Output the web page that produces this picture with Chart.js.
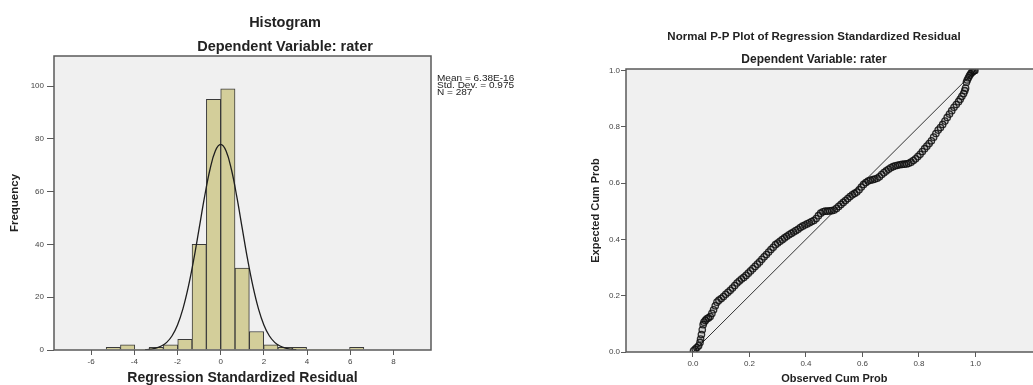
<!DOCTYPE html>
<html>
<head>
<meta charset="utf-8">
<script src="https://cdn.jsdelivr.net/npm/chart.js@4.4.0/dist/chart.umd.min.js"></script>
<style>
  html, body { margin: 0; padding: 0; background: #fff; overflow: hidden; }
  body { width: 1033px; height: 385px; position: relative; }
  .box { position: absolute; top: 0; height: 385px; }
  #histBox { left: 0; width: 570px; }
  #ppBox { left: 580px; width: 468px; }
</style>
</head>
<body>
<div class="box" id="histBox"><canvas id="histChart" width="570" height="385"></canvas></div>
<div class="box" id="ppBox"><canvas id="ppChart" width="468" height="385"></canvas></div>
<script>
// ---- histogram of the standardized residuals ----
const binCenters = [-4.973, -4.310, -3.647, -2.984, -2.321, -1.658, -0.995, -0.332, 0.332,
                    0.995, 1.658, 2.321, 2.984, 3.647, 4.310, 4.973, 5.636, 6.299];
const binCounts = [1, 2, 0, 1, 2, 4, 40, 95, 99, 31, 7, 2, 1, 1, 0, 0, 0, 1];

// normal curve drawn over the bars
const curveX = [-3.5, -3.25, -3, -2.75, -2.5, -2.25, -2, -1.75, -1.5, -1.25, -1, -0.75, -0.5, -0.25, 0,
                0.25, 0.5, 0.75, 1, 1.25, 1.5, 1.75, 2, 2.25, 2.5, 2.75, 3, 3.25, 3.5];
const curveY = [0.1, 0.3, 0.7, 1.5, 2.9, 5.4, 9.5, 15.6, 23.9, 34.2, 46.0, 57.9, 68.3, 75.4, 77.9,
                75.4, 68.3, 57.9, 46.0, 34.2, 23.9, 15.6, 9.5, 5.4, 2.9, 1.5, 0.7, 0.3, 0.1];

const histXTicks = [-6, -4, -2, 0, 2, 4, 6, 8];
const histYTicks = [0, 20, 40, 60, 80, 100];
const summaryLines = ['Mean = 6.38E-16', 'Std. Dev. = 0.975', 'N = 287'];

// ---- normal P-P plot ----
const observedCum = [
  0.002, 0.008, 0.014, 0.020, 0.025, 0.027, 0.030, 0.033, 0.036, 0.039, 0.044, 0.049, 0.055, 0.061,
  0.067, 0.073, 0.079, 0.085, 0.092, 0.100, 0.108, 0.116, 0.124, 0.132, 0.140, 0.148, 0.156, 0.164,
  0.172, 0.180, 0.188, 0.196, 0.204, 0.212, 0.220, 0.228, 0.236, 0.244, 0.252, 0.260, 0.268, 0.276,
  0.284, 0.292, 0.300, 0.308, 0.316, 0.324, 0.332, 0.340, 0.348, 0.356, 0.364, 0.372, 0.380, 0.388,
  0.396, 0.404, 0.412, 0.420, 0.428, 0.436, 0.444, 0.452, 0.460, 0.468, 0.476, 0.484, 0.492, 0.500,
  0.508, 0.516, 0.524, 0.532, 0.540, 0.548, 0.556, 0.564, 0.572, 0.580, 0.588, 0.596, 0.604, 0.612,
  0.620, 0.628, 0.636, 0.644, 0.652, 0.660, 0.668, 0.676, 0.684, 0.692, 0.700, 0.708, 0.716, 0.724,
  0.732, 0.740, 0.748, 0.756, 0.764, 0.772, 0.780, 0.788, 0.796, 0.804, 0.812, 0.820, 0.828, 0.836,
  0.844, 0.852, 0.860, 0.868, 0.876, 0.884, 0.892, 0.900, 0.908, 0.916, 0.924, 0.932, 0.940, 0.946,
  0.952, 0.958, 0.962, 0.965, 0.968, 0.971, 0.975, 0.979, 0.983, 0.987, 0.991, 0.995, 0.998
];
const expectedCum = [
  0.004, 0.010, 0.016, 0.022, 0.034, 0.046, 0.062, 0.079, 0.097, 0.106, 0.112, 0.118, 0.121, 0.126,
  0.137, 0.150, 0.164, 0.177, 0.184, 0.190, 0.197, 0.205, 0.212, 0.219, 0.227, 0.236, 0.245, 0.252,
  0.259, 0.265, 0.272, 0.280, 0.288, 0.296, 0.304, 0.312, 0.320, 0.329, 0.338, 0.346, 0.355, 0.364,
  0.372, 0.381, 0.387, 0.393, 0.399, 0.405, 0.411, 0.416, 0.421, 0.426, 0.431, 0.436, 0.442, 0.447,
  0.451, 0.455, 0.459, 0.463, 0.467, 0.474, 0.484, 0.493, 0.498, 0.500, 0.500, 0.501, 0.502, 0.504,
  0.510, 0.517, 0.524, 0.531, 0.538, 0.545, 0.552, 0.558, 0.563, 0.568, 0.576, 0.586, 0.595, 0.602,
  0.607, 0.610, 0.612, 0.614, 0.617, 0.622, 0.630, 0.637, 0.643, 0.649, 0.654, 0.658, 0.661, 0.663,
  0.665, 0.666, 0.667, 0.668, 0.670, 0.674, 0.680, 0.686, 0.694, 0.702, 0.712, 0.722, 0.731, 0.740,
  0.750, 0.763, 0.776, 0.788, 0.797, 0.808, 0.820, 0.833, 0.845, 0.857, 0.869, 0.879, 0.889, 0.898,
  0.908, 0.918, 0.928, 0.937, 0.958, 0.966, 0.974, 0.982, 0.988, 0.993, 0.996, 0.999, 1.000
];
const diagonalEnds = [0, 1];
const ppTicks = [0.0, 0.2, 0.4, 0.6, 0.8, 1.0];

const FONT = "'Liberation Sans', Arial, sans-serif";
const INK = '#222';
const TICK_INK = '#444';
const FRAME = '#5a5a5a';

// grey plot background and the box around it
function plotFrame(id) {
  return {
    id: id,
    beforeDraw(chart) {
      const { ctx, chartArea: a } = chart;
      ctx.save();
      ctx.fillStyle = '#f0f0f0';
      ctx.fillRect(a.left, a.top, a.right - a.left, a.bottom - a.top);
      ctx.restore();
    },
    afterDatasetsDraw(chart) {
      const { ctx, chartArea: a } = chart;
      ctx.save();
      ctx.strokeStyle = FRAME;
      ctx.lineWidth = 1.5;
      ctx.strokeRect(a.left, a.top, a.right - a.left, a.bottom - a.top);
      ctx.restore();
    }
  };
}

// title lines centred on a given x
function headings(id, cx, lines) {
  return {
    id: id,
    afterDraw(chart) {
      const ctx = chart.ctx;
      ctx.save();
      ctx.fillStyle = INK;
      ctx.textAlign = 'center';
      ctx.textBaseline = 'middle';
      lines.forEach(l => {
        ctx.font = l.font;
        ctx.fillText(l.text, cx, l.y);
      });
      ctx.restore();
    }
  };
}

// Mean / Std. Dev. / N block to the right of the histogram
const summaryBox = {
  id: 'summaryBox',
  afterDraw(chart) {
    const ctx = chart.ctx;
    ctx.save();
    ctx.fillStyle = INK;
    ctx.textAlign = 'left';
    ctx.textBaseline = 'alphabetic';
    ctx.font = '8.5px ' + FONT;
    summaryLines.forEach((t, i) => {
      ctx.save();
      ctx.translate(437, 80.5 + i * 7);
      ctx.scale(1.18, 1);
      ctx.fillText(t, 0, 0);
      ctx.restore();
    });
    ctx.restore();
  }
};

const tickFont = { family: FONT, size: 8 };

new Chart(document.getElementById('histChart'), {
  type: 'bar',
  data: {
    datasets: [
      {
        type: 'line',
        data: curveX.map((x, i) => ({ x: x, y: curveY[i] })),
        borderColor: '#1e1e1e',
        borderWidth: 1.3,
        pointRadius: 0,
        tension: 0.4,
        fill: false,
        order: 0
      },
      {
        type: 'bar',
        data: binCenters.map((x, i) => ({ x: x, y: binCounts[i] })),
        backgroundColor: '#d3ce9a',
        borderColor: '#3a3a3a',
        borderWidth: c => (c.raw && c.raw.y > 0 ? 1 : 0),
        borderSkipped: 'start',
        barPercentage: 1,
        categoryPercentage: 1,
        order: 1
      }
    ]
  },
  options: {
    responsive: false,
    animation: false,
    devicePixelRatio: 1,
    layout: { padding: { left: 0, right: 139, top: 56, bottom: 0 } },
    plugins: { legend: { display: false }, tooltip: { enabled: false }, title: { display: false } },
    scales: {
      x: {
        type: 'linear',
        min: -7.72,
        max: 9.74,
        offset: false,
        afterBuildTicks: s => { s.ticks = histXTicks.map(v => ({ value: v })); },
        afterFit: s => { s.height = 35; },
        grid: { offset: false, drawOnChartArea: false, tickLength: 5, tickColor: FRAME, tickWidth: 1 },
        border: { display: false },
        ticks: { font: tickFont, color: TICK_INK, padding: 2, maxRotation: 0 },
        title: {
          display: true,
          text: 'Regression Standardized Residual',
          font: { family: FONT, size: 14, weight: 'bold', lineHeight: 1 },
          color: INK,
          padding: { top: 0, bottom: 0 }
        }
      },
      y: {
        type: 'linear',
        min: 0,
        max: 111.4,
        afterBuildTicks: s => { s.ticks = histYTicks.map(v => ({ value: v })); },
        afterFit: s => { s.width = 54; },
        grid: { drawOnChartArea: false, tickLength: 7, tickColor: FRAME, tickWidth: 1 },
        border: { display: false },
        ticks: { font: tickFont, color: TICK_INK, padding: 3 },
        title: {
          display: true,
          text: 'Frequency',
          font: { family: FONT, size: 11.5, weight: 'bold', lineHeight: 1.2 },
          color: INK,
          padding: { top: 8, bottom: 0 }
        }
      }
    }
  },
  plugins: [
    plotFrame('histFrame'),
    headings('histHead', 285, [
      { text: 'Histogram', y: 23, font: 'bold 14.5px ' + FONT },
      { text: 'Dependent Variable: rater', y: 47, font: 'bold 14.5px ' + FONT }
    ]),
    summaryBox
  ]
});

new Chart(document.getElementById('ppChart'), {
  type: 'scatter',
  data: {
    datasets: [
      {
        data: observedCum.map((x, i) => ({ x: x, y: expectedCum[i] })),
        pointStyle: 'circle',
        pointRadius: 3.2,
        pointBorderWidth: 1.3,
        pointBorderColor: 'rgba(15, 15, 15, 0.85)',
        pointBackgroundColor: 'rgba(0, 0, 0, 0.12)',
        order: 0
      },
      {
        type: 'line',
        data: diagonalEnds.map(v => ({ x: v, y: v })),
        borderColor: '#333',
        borderWidth: 1,
        pointRadius: 0,
        fill: false,
        order: 1
      }
    ]
  },
  options: {
    responsive: false,
    animation: false,
    devicePixelRatio: 1,
    layout: { padding: { left: 0, right: 5, top: 69, bottom: 0 } },
    plugins: { legend: { display: false }, tooltip: { enabled: false }, title: { display: false } },
    scales: {
      x: {
        type: 'linear',
        min: -0.237,
        max: 1.238,
        afterBuildTicks: s => { s.ticks = ppTicks.map(v => ({ value: v })); },
        afterFit: s => { s.height = 33; },
        grid: { drawOnChartArea: false, tickLength: 5, tickColor: FRAME, tickWidth: 1 },
        border: { display: false },
        ticks: { font: tickFont, color: TICK_INK, padding: 2, maxRotation: 0, callback: v => v.toFixed(1) },
        title: {
          display: true,
          text: 'Observed Cum Prob',
          font: { family: FONT, size: 11, weight: 'bold', lineHeight: 1 },
          color: INK,
          padding: { top: 0, bottom: 0.5 }
        }
      },
      y: {
        type: 'linear',
        min: 0,
        max: 1.005,
        afterBuildTicks: s => { s.ticks = ppTicks.map(v => ({ value: v })); },
        afterFit: s => { s.width = 46; },
        grid: { drawOnChartArea: false, tickLength: 5, tickColor: FRAME, tickWidth: 1 },
        border: { display: false },
        ticks: { font: tickFont, color: TICK_INK, padding: 1, callback: v => v.toFixed(1) },
        title: {
          display: true,
          text: 'Expected Cum Prob',
          font: { family: FONT, size: 11, weight: 'bold', lineHeight: 1.2 },
          color: INK,
          padding: { top: 9, bottom: 0 }
        }
      }
    }
  },
  plugins: [
    plotFrame('ppFrame'),
    headings('ppHead', 234, [
      { text: 'Normal P-P Plot of Regression Standardized Residual', y: 37, font: 'bold 11.5px ' + FONT },
      { text: 'Dependent Variable: rater', y: 60, font: 'bold 12px ' + FONT }
    ])
  ]
});
</script>
</body>
</html>
